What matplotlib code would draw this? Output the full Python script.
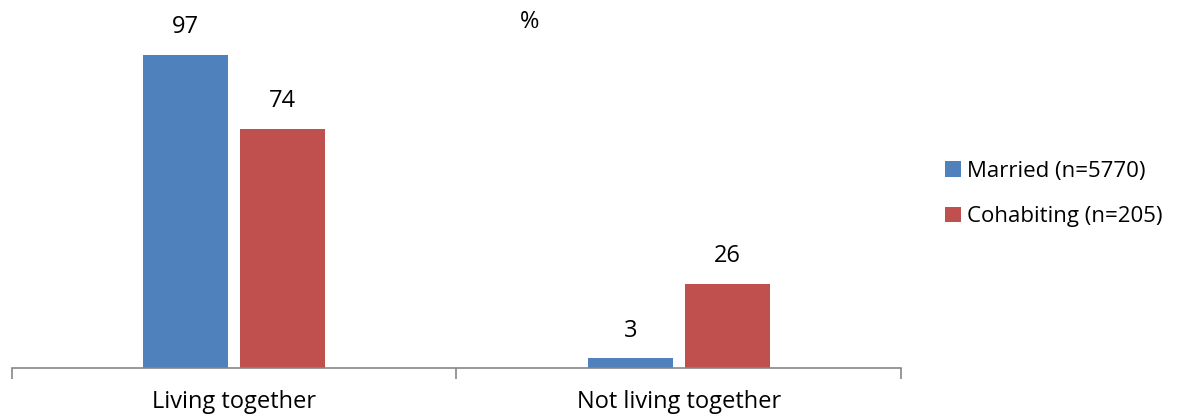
import matplotlib.pyplot as plt
import numpy as np

plt.rcParams['font.family'] = ['Open Sans', 'DejaVu Sans']

categories = ['Living together', 'Not living together']
married = [97, 3]
cohabiting = [74, 26]
series_labels = ['Married (n=5770)', 'Cohabiting (n=205)']
colors = ['#4F81BD', '#C0504D']

fig = plt.figure(figsize=(11.88, 4.16), dpi=100)
# plot area: x 12..901 px, baseline at y=368 px
H = 416
ymax = 110
px_per_unit = (368 - 55) / 97
top_px = 368 - ymax * px_per_unit
ax = fig.add_axes([12 / 1188, (H - 368) / H, (901 - 12) / 1188, (368 - top_px) / H])

x = np.arange(len(categories))
w = 0.191
gap = 0.027
b1 = ax.bar(x - (w + gap) / 2, married, w, color=colors[0], label=series_labels[0])
b2 = ax.bar(x + (w + gap) / 2, cohabiting, w, color=colors[1], label=series_labels[1])

fs = 17
for bars, vals in ((b1, married), (b2, cohabiting)):
    for rect, v in zip(bars, vals):
        ax.annotate(str(v), (rect.get_x() + rect.get_width() / 2, v),
                    xytext=(0, 20), textcoords='offset points',
                    ha='center', va='center', fontsize=fs)

ax.set_xlim(-0.5, 1.5)
ax.set_ylim(0, ymax)
for s in ('top', 'right', 'left'):
    ax.spines[s].set_visible(False)
ax.spines['bottom'].set_color('#868686')
ax.spines['bottom'].set_linewidth(1.2)
ax.set_yticks([])
ax.set_xticks([-0.5, 0.5, 1.5], minor=False)
ax.set_xticklabels([])
ax.tick_params(axis='x', length=8, color='#868686', width=1.2)
ax.set_xticks(x, minor=True)
ax.set_xticklabels(categories, minor=True, fontsize=fs)
ax.tick_params(axis='x', which='minor', length=0, pad=16)

fig.text(530 / 1188, 1 - 22 / H, '%', ha='center', va='center', fontsize=fs)

fig.legend(handles=[b1, b2], labels=series_labels, loc='center left',
           bbox_to_anchor=(925 / 1188, 1 - 194 / H), frameon=False,
           fontsize=16, handlelength=0.7, handleheight=0.7,
           handletextpad=0.3, labelspacing=1.1)

fig.savefig('out.png', dpi=100)
